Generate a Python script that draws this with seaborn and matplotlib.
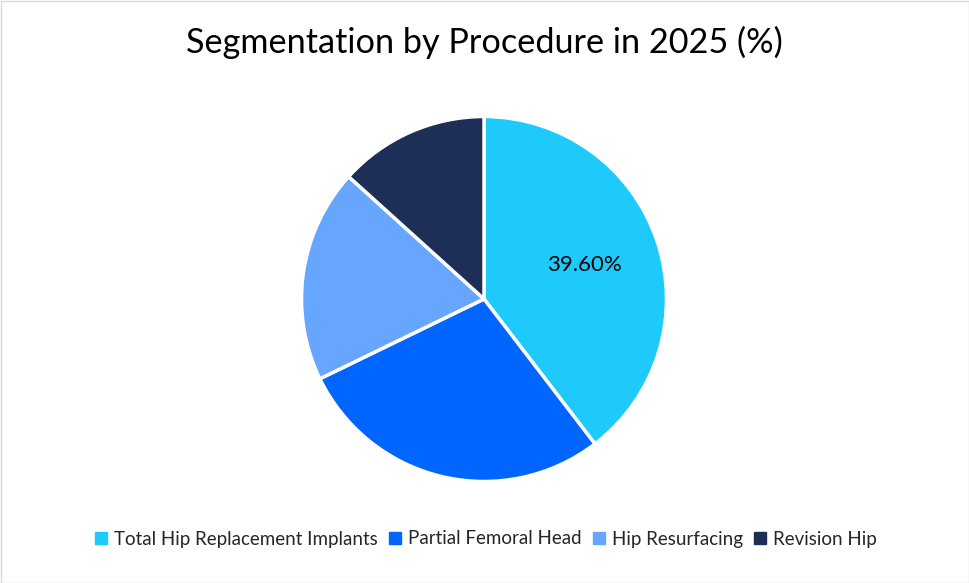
import matplotlib
matplotlib.use("Agg")
import matplotlib.pyplot as plt
import seaborn as sns
from matplotlib.patches import Rectangle
from matplotlib.lines import Line2D

sns.set_style("white")
plt.rcParams['font.family'] = ['Lato', 'DejaVu Sans']

categories = ["Total Hip Replacement Implants", "Partial Femoral Head", "Hip Resurfacing", "Revision Hip"]
values = [39.6, 28.2, 18.9, 13.3]
colors = ["#1ECAFC", "#0066FF", "#66A6FF", "#1D2F57"]
title = "Segmentation by Procedure in 2025 (%)"

W, H = 970, 583
fig = plt.figure(figsize=(W / 100, H / 100), dpi=100)
fig.patch.set_facecolor("white")

cx, cy, r = 484, 299, 182.5
ax = fig.add_axes([(cx - r) / W, 1 - (cy + r) / H, 2 * r / W, 2 * r / H])

def fmt(p):
    return f"{p:.2f}%" if p > 35 else ""

wedges, texts, autotexts = ax.pie(
    values, colors=colors, startangle=90, counterclock=False,
    autopct=fmt, pctdistance=0.58,
    wedgeprops=dict(edgecolor="white", linewidth=2.5),
    textprops=dict(fontsize=16, color="black"),
)
ax.set_xlim(-1, 1)
ax.set_ylim(-1, 1)
ax.set_aspect("equal")
ax.axis("off")

fig.text(cx / W, 1 - 42 / H, title, ha="center", va="center", fontsize=24.7, color="black")

handles = [Line2D([0], [0], marker="s", linestyle="none", markersize=8,
                  markerfacecolor=c, markeredgecolor=c) for c in colors]
fig.legend(handles, categories, loc="center", bbox_to_anchor=(0.5, 1 - 539 / H),
           ncol=4, frameon=False, fontsize=13.5, handlelength=0.8, handletextpad=0.3,
           columnspacing=0.5)

fig.add_artist(Rectangle((0.5 / W, 0.5 / H), 1 - 1.5 / W, 1 - 1.5 / H, transform=fig.transFigure,
                         fill=False, edgecolor="#D9D9D9", linewidth=1))

fig.savefig("out.png", dpi=100, facecolor="white")
